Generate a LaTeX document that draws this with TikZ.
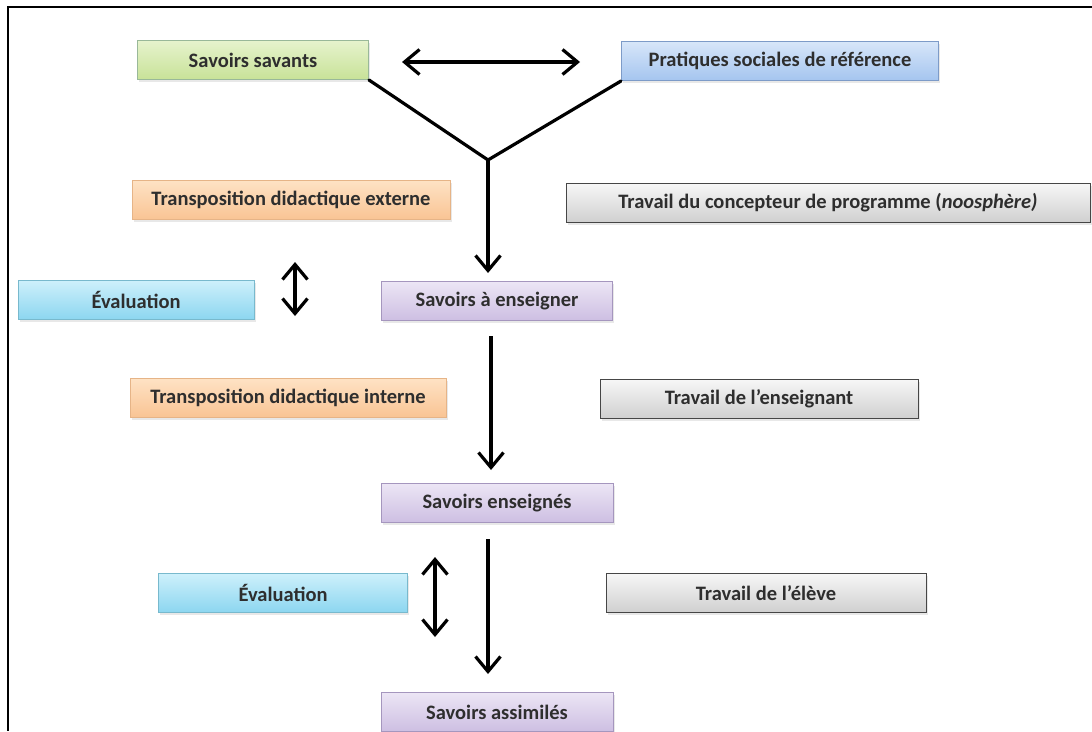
\documentclass[tikz,border=0pt]{standalone}
\usepackage{fontspec}
\setmainfont{Carlito}
\usetikzlibrary{arrows.meta,shadows}
\definecolor{txt}{HTML}{2E2E2E}
\tikzset{
  box/.style={draw, line width=1pt, minimum height=39pt, inner sep=0pt,
    font=\fontsize{20.5}{22}\selectfont\bfseries, text=txt,
    drop shadow={shadow xshift=1.5pt, shadow yshift=-2pt, opacity=0.18}},
  greenbox/.style={box, draw=green!30!black!40, top color={rgb,255:red,230;green,243;blue,205}, bottom color={rgb,255:red,200;green,226;blue,152}},
  bluebox/.style={box, draw={rgb,255:red,125;green,155;blue,200}, top color={rgb,255:red,215;green,230;blue,249}, bottom color={rgb,255:red,165;green,197;blue,239}},
  orangebox/.style={box, draw={rgb,255:red,230;green,180;blue,135}, top color={rgb,255:red,254;green,226;blue,196}, bottom color={rgb,255:red,249;green,196;blue,148}},
  graybox/.style={box, draw={rgb,255:red,70;green,70;blue,70}, top color={rgb,255:red,246;green,246;blue,246}, bottom color={rgb,255:red,208;green,208;blue,208}},
  cyanbox/.style={box, draw={rgb,255:red,120;green,185;blue,205}, top color={rgb,255:red,205;green,240;blue,251}, bottom color={rgb,255:red,140;green,214;blue,240}},
  purplebox/.style={box, draw={rgb,255:red,165;green,150;blue,190}, top color={rgb,255:red,236;green,230;blue,245}, bottom color={rgb,255:red,205;green,190;blue,226}},
  flow/.style={line width=3.2pt, black},
  tip/.style={-{Straight Barb[length=15pt,width=25pt]}},
  dtip/.style={{Straight Barb[length=15pt,width=25pt]}-{Straight Barb[length=15pt,width=25pt]}},
  frame/.style={line width=2.4pt, black}
}
\begin{document}
\begin{tikzpicture}[x=1pt,y=-1pt]
\useasboundingbox (0,0) rectangle (1092,731);
\fill[white] (0,0) rectangle (1092,731);
\draw[frame] (1092,7) -- (8,7) -- (8,731);

\node[greenbox, minimum width=231pt] (ss) at (253,60) {Savoirs savants};
\node[bluebox, minimum width=317pt] (ps) at (780,61) {Pratiques sociales de référence};
\node[orangebox, minimum width=318pt] (tde) at (291,200) {Transposition didactique externe};
\node[graybox, minimum width=524pt] (tc) at (828,203) {Travail du concepteur de programme (\textit{noosphère)}};
\node[cyanbox, minimum width=236pt] (ev1) at (136,300) {Évaluation};
\node[purplebox, minimum width=231pt] (sae) at (497,301) {Savoirs à enseigner};
\node[orangebox, minimum width=316pt] (tdi) at (288,398) {Transposition didactique interne};
\node[graybox, minimum width=318pt] (te) at (759,399) {Travail de l’enseignant};
\node[purplebox, minimum width=232pt] (se) at (497,503) {Savoirs enseignés};
\node[cyanbox, minimum width=249pt] (ev2) at (283,593) {Évaluation};
\node[graybox, minimum width=320pt] (tel) at (766,593) {Travail de l’élève};
\node[purplebox, minimum width=232pt] (sas) at (497,712) {Savoirs assimilés};

% top double arrow
\coordinate (h1) at (402,62);
\coordinate (h2) at (580,62);
\draw[flow, dtip] (h1) -- (h2);

% Y junction
\coordinate (j) at (488,160);
\draw[flow, line cap=round] (ss.south east) -- (j) -- (ps.south west);
\draw[flow, tip, shorten >=8pt] (j) -- (j |- sae.north);
% vertical flows
\draw[flow, tip, shorten <=15pt, shorten >=13pt] ([xshift=-6pt]sae.south) -- ([xshift=-6pt]se.north);
\draw[flow, tip, shorten <=16pt, shorten >=18pt] ([xshift=-9pt]se.south) -- ([xshift=-9pt]sas.north);

% evaluation double arrows
\coordinate (e1a) at (295,262);
\coordinate (e1b) at (295,316);
\draw[flow, dtip] (e1a) -- (e1b);
\coordinate (e2a) at (435,557);
\coordinate (e2b) at (435,637);
\draw[flow, dtip] (e2a) -- (e2b);
\end{tikzpicture}
\end{document}
